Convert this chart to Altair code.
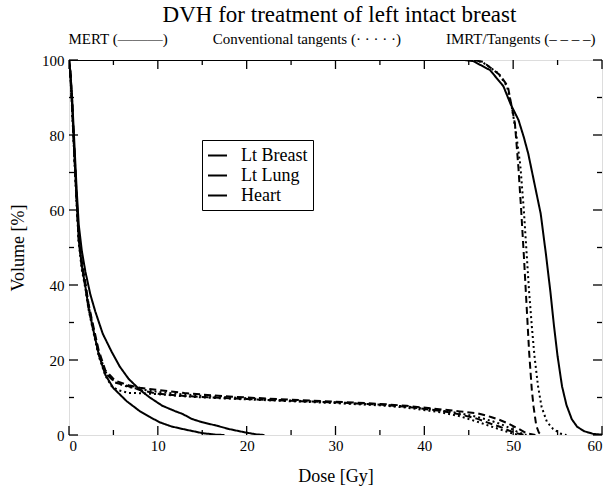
import altair as alt
import pandas as pd

# ---------------- data ----------------
breast_mert_dose = [0, 44.5, 45.5, 47.4, 48.9, 49.7, 50.6, 51.2, 51.7, 52.4, 53.1, 53.7, 54.2, 54.6, 55.0, 55.5, 56.0, 56.6, 57.2, 58.0, 59.0, 60.0]
breast_mert_vol = [100, 100, 99.7, 97.3, 93, 88.3, 84, 79.4, 75, 67, 59, 48, 38, 29, 21, 13, 8, 4.2, 2.2, 1, 0.3, 0.1]

breast_conv_dose = [0, 45.0, 46.5, 48.3, 49.3, 49.8, 50.3, 50.8, 51.2, 51.5, 51.8, 52.1, 52.4, 52.8, 53.2, 53.8, 54.5, 55.3, 56.0]
breast_conv_vol = [100, 100, 99.5, 96.5, 93, 88, 81, 72, 60, 49, 38, 29, 21, 13, 7.5, 3.5, 1.6, 0.4, 0]

breast_imrt_dose = [0, 45.5, 46.6, 48.5, 49.4, 49.8, 50.2, 50.6, 50.9, 51.2, 51.5, 51.8, 52.1, 52.3, 52.6, 52.9, 53.2]
breast_imrt_vol = [100, 100, 99.5, 96, 93, 88, 83, 71, 60, 48, 35, 22, 12, 7.5, 2.5, 0.6, 0]

lung_mert_dose = [0, 0.15, 0.35, 0.6, 0.85, 1.1, 1.45, 1.85, 2.4, 2.95, 3.8, 4.8, 5.7, 6.7, 8.0, 9.1, 10.5, 12.0, 12.8, 13.8, 15.0, 16.6, 18.0, 19.6, 21.0, 22.0]
lung_mert_vol = [100, 97, 90, 78, 66, 56, 49, 43.5, 37.5, 33, 27, 22.2, 18.3, 15, 12, 10, 7.8, 6.3, 5.6, 4.3, 3.4, 2.5, 1.6, 0.8, 0.2, 0]

lung_conv_dose = [0, 0.15, 0.35, 0.6, 0.85, 1.1, 1.45, 1.85, 2.2, 2.6, 3.35, 4.1, 5.2, 6.7, 8, 10, 13, 16, 20, 25, 30, 35, 38, 42, 44, 46, 47.5, 48.5, 49.5, 50.5, 51.5]
lung_conv_vol = [100, 97, 89, 75, 63, 52, 45, 40, 34.5, 30, 22, 16.8, 14, 12.8, 12.2, 11.5, 10.8, 10.3, 9.8, 9.2, 8.7, 8.1, 7.6, 6.5, 5.8, 4.8, 3.8, 3, 2, 0.8, 0]

lung_imrt_dose = [0, 0.15, 0.35, 0.6, 0.85, 1.1, 1.45, 1.85, 2.2, 2.6, 3.35, 4.1, 5.2, 6.7, 8, 10, 13, 16, 20, 25, 30, 35, 38, 42, 44, 46, 47.5, 48.5, 49.5, 50.5, 51.5, 52.5]
lung_imrt_vol = [100, 97, 89, 76, 64, 53, 46, 40.5, 35, 30.5, 22.5, 17.2, 14.5, 13.3, 12.6, 12, 11.2, 10.6, 10, 9.4, 8.9, 8.3, 7.8, 6.8, 6.3, 5.8, 4.8, 4, 3, 1.8, 0.5, 0]

heart_mert_dose = [0, 0.15, 0.35, 0.6, 0.85, 1.1, 1.45, 1.85, 2.2, 2.6, 3.35, 4.1, 5.0, 6.5, 8.0, 9.1, 10.2, 11.5, 12.8, 14.0, 15.0, 16.5, 17.5]
heart_mert_vol = [100, 96, 88, 75, 63, 52, 45, 39.5, 34, 29.5, 21.5, 16, 12.5, 9, 6.3, 4.8, 3.4, 2.3, 1.6, 1, 0.5, 0.1, 0]

heart_conv_dose = [0, 0.15, 0.35, 0.6, 0.85, 1.1, 1.45, 1.85, 2.2, 2.6, 3.35, 4.1, 4.8, 5.5, 6.7, 7.5, 8.5, 10, 13, 16, 20, 25, 30, 35, 38, 42, 44, 46, 47.5, 48.5, 49.5, 50.3, 51]
heart_conv_vol = [100, 96, 87, 74, 62, 51, 44, 39, 33.5, 29, 21, 15.8, 13, 12, 11.2, 11.2, 11.1, 10.9, 10.3, 9.9, 9.5, 9, 8.5, 7.9, 7.3, 6, 5, 3.5, 2.3, 1.5, 0.7, 0.2, 0]

heart_imrt_dose = [0, 0.15, 0.35, 0.6, 0.85, 1.1, 1.45, 1.85, 2.2, 2.6, 3.35, 4.1, 5.2, 6.7, 8, 10, 13, 16, 20, 25, 30, 35, 38, 42, 44, 46, 47.5, 48.5, 49.5, 50.5, 51.3]
heart_imrt_vol = [100, 96, 88, 75, 63, 52, 45, 39.5, 34, 29.5, 21.5, 16.5, 14, 13, 12, 11, 10.4, 10, 9.6, 9.1, 8.7, 8.1, 7.5, 6.4, 5.5, 4.3, 3, 2.2, 1.2, 0.4, 0]

organs = ["Lt Breast", "Lt Lung", "Heart"]
methods = ["MERT", "Conventional tangents", "IMRT/Tangents"]

x_major = [0, 10, 20, 30, 40, 50, 60]
x_minor = [5, 15, 25, 35, 45, 55]
y_major = [0, 20, 40, 60, 80, 100]
y_minor = [10, 30, 50, 70, 90]

series = [
    ("Lt Breast", "MERT", breast_mert_dose, breast_mert_vol),
    ("Lt Breast", "Conventional tangents", breast_conv_dose, breast_conv_vol),
    ("Lt Breast", "IMRT/Tangents", breast_imrt_dose, breast_imrt_vol),
    ("Lt Lung", "MERT", lung_mert_dose, lung_mert_vol),
    ("Lt Lung", "Conventional tangents", lung_conv_dose, lung_conv_vol),
    ("Lt Lung", "IMRT/Tangents", lung_imrt_dose, lung_imrt_vol),
    ("Heart", "MERT", heart_mert_dose, heart_mert_vol),
    ("Heart", "Conventional tangents", heart_conv_dose, heart_conv_vol),
    ("Heart", "IMRT/Tangents", heart_imrt_dose, heart_imrt_vol),
]

rows = []
for organ, method, ds, vs in series:
    for i, (d, v) in enumerate(zip(ds, vs)):
        rows.append({"organ": organ, "method": method, "curve": organ + "|" + method,
                     "order": i, "dose": d, "volume": v})
df = pd.DataFrame(rows)

FONT = "Liberation Serif"
W, H = 533, 375

xscale = alt.Scale(domain=[0, 60], nice=False, zero=False)
yscale = alt.Scale(domain=[0, 100], nice=False, zero=False)

xaxis = alt.Axis(values=x_major, ticks=False, domain=False, grid=False,
                 labelFont=FONT, labelFontSize=15, labelColor="black",
                 labelPadding=3, title="Dose [Gy]", titleFont=FONT,
                 titleFontSize=18, titleFontWeight="normal",
                 titleColor="black", titlePadding=14)
yaxis = alt.Axis(values=y_major, ticks=False, domain=False, grid=False,
                 labelFont=FONT, labelFontSize=15, labelColor="black",
                 labelPadding=5, title="Volume [%]", titleFont=FONT,
                 titleFontSize=18, titleFontWeight="normal",
                 titleColor="black", titlePadding=14)

lines = alt.Chart(df).mark_line(strokeWidth=2, clip=True).encode(
    x=alt.X("dose:Q", scale=xscale, axis=xaxis, title="Dose [Gy]"),
    y=alt.Y("volume:Q", scale=yscale, axis=yaxis, title="Volume [%]"),
    color=alt.Color("organ:N",
                    scale=alt.Scale(domain=organs, range=["black", "black", "black"]),
                    legend=alt.Legend(title=None, orient="none", legendX=133, legendY=80,
                                      symbolType="stroke", symbolSize=361,
                                      symbolStrokeWidth=2, labelFont=FONT,
                                      labelFontSize=18, labelColor="black",
                                      rowPadding=0, labelOffset=13,
                                      padding=5, symbolStrokeColor="black",
                                      strokeColor="black", fillColor="white")),
    strokeDash=alt.StrokeDash("method:N",
                              scale=alt.Scale(domain=methods,
                                              range=[[1, 0], [2, 3], [7, 4]]),
                              legend=None),
    detail="curve:N",
    order="order:Q",
)

xt_major = pd.DataFrame({"v": x_major})
xt_minor = pd.DataFrame({"v": x_minor})
yt_major = pd.DataFrame({"v": y_major})
yt_minor = pd.DataFrame({"v": y_minor})

def xticks(data, length):
    bottom = alt.Chart(data).mark_rule(color="black", strokeWidth=1.3).encode(
        x=alt.X("v:Q", scale=xscale, axis=xaxis, title="Dose [Gy]"),
        y=alt.value(H), y2=alt.value(H - length))
    top = alt.Chart(data).mark_rule(color="black", strokeWidth=1.3).encode(
        x=alt.X("v:Q", scale=xscale, axis=xaxis, title="Dose [Gy]"),
        y=alt.value(0), y2=alt.value(length))
    return [bottom, top]

def yticks(data, length):
    left = alt.Chart(data).mark_rule(color="black", strokeWidth=1.3).encode(
        y=alt.Y("v:Q", scale=yscale, axis=yaxis, title="Volume [%]"),
        x=alt.value(0), x2=alt.value(length))
    right = alt.Chart(data).mark_rule(color="black", strokeWidth=1.3).encode(
        y=alt.Y("v:Q", scale=yscale, axis=yaxis, title="Volume [%]"),
        x=alt.value(W), x2=alt.value(W - length))
    return [left, right]

tick_layers = xticks(xt_major, 9) + xticks(xt_minor, 5) + yticks(yt_major, 9) + yticks(yt_minor, 5)

nb = "\u00a0"
subtitle = ("MERT (———)" + nb * 12 + "Conventional tangents (· · · · ·)" + nb * 12 +
            "IMRT/Tangents (–" + nb + "–" + nb + "–" + nb + "–)" + nb * 4 + "\u200b")

chart = alt.layer(lines, *tick_layers).properties(
    width=W, height=H,
    title=alt.TitleParams(
        "DVH for treatment of left intact breast",
        subtitle=subtitle,
        font=FONT, fontSize=23, fontWeight="normal", color="black",
        subtitleFont=FONT, subtitleFontSize=15, subtitleColor="black",
        subtitlePadding=5, anchor="middle", offset=6, dx=4,
    ),
    autosize=alt.AutoSizeParams(type="none"),
    padding={"left": 69, "top": 60, "right": 11, "bottom": 57},
).configure_view(
    stroke="black", strokeWidth=2
).configure_legend(
    strokeColor="black", strokeWidth=1.5, fillColor="white"
).configure(background="white")

chart.save("out.html", embed_options={"renderer": "svg", "actions": False})
